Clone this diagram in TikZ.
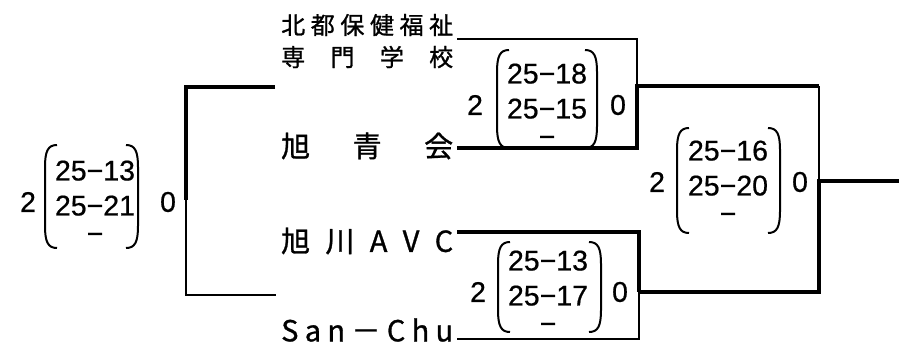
\documentclass[tikz,border=0pt]{standalone}
\usepackage{fontspec}
\setmainfont[FakeBold=0.6]{Liberation Sans}
\newfontfamily\jp[FakeBold=1]{Noto Sans CJK JP}
\newcommand\parpair[4]{%
  \draw[paren] (#1+12,#3) .. controls (#1+3,#3) and (#1,#3+6) .. (#1,#3+22) -- (#1,#4-22) .. controls (#1,#4-6) and (#1+3,#4) .. (#1+12,#4);
  \draw[paren] (#2-12,#3) .. controls (#2-3,#3) and (#2,#3+6) .. (#2,#3+22) -- (#2,#4-22) .. controls (#2,#4-6) and (#2-3,#4) .. (#2-12,#4);}
\tikzset{
  thinln/.style={line width=2.2pt, line join=miter},
  thickln/.style={line width=4.8pt, line join=miter},
  paren/.style={line width=2pt},
  sc/.style={font=\fontsize{28.5}{35}\selectfont, align=center, inner sep=0pt},
  nm/.style={font=\jp\fontsize{24}{24}\selectfont, inner sep=0pt, anchor=west},
  nmb/.style={font=\jp\fontsize{29}{29}\selectfont, inner sep=0pt, anchor=west},
}
\begin{document}
\begin{tikzpicture}[x=1pt,y=-1pt]
\useasboundingbox (0,0) rectangle (899,345);
% team names
\node[nm] (n1) at (281,25) {\makebox[172pt][s]{北\hfill 都\hfill 保\hfill 健\hfill 福\hfill 祉}};
\node[nm] (n1b) at (281,57) {\makebox[172pt][s]{専\hfill 門\hfill 学\hfill 校}};
\node[nmb] (n2) at (281,146) {\makebox[172pt][s]{旭\hfill 青\hfill 会}};
\node[nmb] (n3) at (281,241) {\makebox[172pt][s]{旭\hfill 川\hfill A\hfill V\hfill C}};
\node[nmb] (n4) at (281,330) {\makebox[172pt][s]{S\hfill a\hfill n\hfill －\hfill C\hfill h\hfill u}};
% bracket coordinates
\coordinate (L1) at (275,87); \coordinate (L2) at (186,87); \coordinate (Lm) at (186,200);
\coordinate (L3) at (186,295); \coordinate (L4) at (276,295);
\coordinate (p1) at (457,39); \coordinate (q1) at (637,39);
\coordinate (p2) at (457,148); \coordinate (q2) at (637,148);
\coordinate (m1) at (637,86);
\coordinate (p3) at (457,232); \coordinate (q3) at (639,232);
\coordinate (p4) at (457,339); \coordinate (q4) at (639,339);
\coordinate (m2) at (639,292);
\coordinate (f1) at (819,86); \coordinate (fm) at (819,181); \coordinate (f2) at (819,292);
\coordinate (out) at (899,181);
% bracket lines
\draw[thickln] (L1) -- (L2) -- (Lm);
\draw[thinln] (Lm) -- (L3) -- (L4);
\draw[thinln] (p1) -- (q1) -- (m1);
\draw[thickln] (p2) -- (q2) -- (m1) -- (f1);
\draw[thinln] (f1) -- (fm);
\draw[thickln] (out) -- (fm) -- (f2) -- (m2);
\draw[thickln] (p3) -- (q3) -- (m2);
\draw[thinln] (m2) -- (q4) -- (p4);
% scores: left match
\node[sc] (wL) at (28,202) {2};
\node[sc] (sL) at (95,202) {25−13\\25−21\\[-7pt]−};
\node[sc] (lL) at (168,202) {0};
\parpair{45}{138}{145}{248}
% match 1
\node[sc] (w1) at (475,105) {2};
\node[sc] (s1) at (547,105) {25−18\\25−15\\[-7pt]−};
\node[sc] (l1) at (618,105) {0};
\parpair{497}{597}{50}{148}
% match 2
\node[sc] (w2) at (478,292) {2};
\node[sc] (s2) at (548,292) {25−13\\25−17\\[-7pt]−};
\node[sc] (l2) at (620,292) {0};
\parpair{498}{601}{242}{332}
% final
\node[sc] (wF) at (657,182) {2};
\node[sc] (sF) at (728,182) {25−16\\25−20\\[-7pt]−};
\node[sc] (lF) at (800,182) {0};
\parpair{677}{780}{128}{233}
\end{tikzpicture}
\end{document}
